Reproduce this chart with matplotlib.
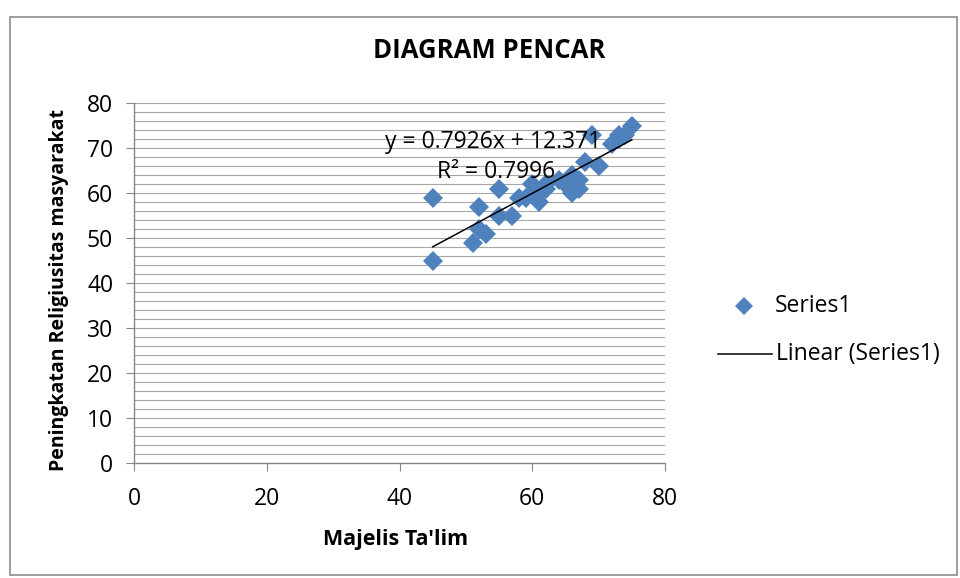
import matplotlib
matplotlib.use("Agg")
import matplotlib.pyplot as plt
from matplotlib.lines import Line2D
from matplotlib.patches import Rectangle
from matplotlib.ticker import MultipleLocator

plt.rcParams['font.family'] = ['Open Sans', 'DejaVu Sans']

# Majelis Ta'lim (x) vs Peningkatan Religiusitas masyarakat (y)
majelis = [45, 45, 51, 52, 53, 52, 55, 55, 57, 58, 59, 60, 61, 62, 61, 60,
           65, 66, 67, 66, 66, 68, 70, 69, 72, 73, 74, 75, 67, 62, 64, 73]
religiusitas = [59, 45, 49, 52, 51, 57, 61, 55, 55, 59, 59, 62, 58, 61, 60, 60,
                62, 60, 61, 64, 62, 67, 66, 73, 71, 72, 73, 75, 63, 62, 63, 73]

slope = 0.7926
intercept = 12.371
r_squared = 0.7996

title = "DIAGRAM PENCAR"
x_label = "Majelis Ta'lim"
y_label = "Peningkatan Religiusitas masyarakat"
series_name = "Series1"
trend_name = "Linear (Series1)"

marker_color = "#4F81BD"
grid_color = "#A6A6A6"
axis_color = "#868686"

W, H = 960, 578


def fx(px):
    return px / W


def fy(py):
    return 1 - py / H


fig = plt.figure(figsize=(W / 100, H / 100), dpi=100)
ax = fig.add_axes([fx(134), fy(463), (665 - 134) / W, (463 - 103) / H])

ax.set_xlim(0, 80)
ax.set_ylim(0, 80)
ax.xaxis.set_major_locator(MultipleLocator(20))
ax.yaxis.set_major_locator(MultipleLocator(10))
ax.yaxis.set_minor_locator(MultipleLocator(2))

ax.grid(axis='y', which='both', color=grid_color, linewidth=0.8)
ax.set_axisbelow(True)

for side in ('top', 'right'):
    ax.spines[side].set_visible(False)
for side in ('left', 'bottom'):
    ax.spines[side].set_color(axis_color)
    ax.spines[side].set_linewidth(1.0)

ax.tick_params(axis='both', which='major', direction='out', length=6,
               color=axis_color, labelsize=16.5)
ax.tick_params(axis='y', which='major', pad=9)
ax.tick_params(axis='x', which='major', pad=11)
ax.tick_params(axis='y', which='minor', length=0)

# scatter points
ax.plot(majelis, religiusitas, linestyle='none', marker='D', markersize=10.5,
        color=marker_color, markeredgewidth=0, zorder=3)

# linear trendline over the data range
x0, x1 = min(majelis), max(majelis)
ax.plot([x0, x1], [slope * x0 + intercept, slope * x1 + intercept],
        color='black', linewidth=1.1, zorder=4)

ax.text(54.1, 71.4, f"y = {slope}x + {intercept}", fontsize=16.5, ha='center',
        va='center', zorder=5)
ax.text(54.5, 64.7, f"R² = {r_squared}", fontsize=16.5, ha='center',
        va='center', zorder=5)

fig.text(fx(396), fy(540), x_label, fontsize=15.5, fontweight='bold',
         ha='center', va='center')
fig.text(fx(59), fy(290), y_label, fontsize=14, fontweight='bold',
         rotation=90, ha='center', va='center')

fig.text(fx(489.5), fy(50.5), title, fontsize=18.5, fontweight='bold',
         ha='center', va='center')

# legend entries
fig.add_artist(Line2D([fx(744)], [fy(306)], linestyle='none', marker='D',
                      markersize=9, color=marker_color, markeredgewidth=0,
                      transform=fig.transFigure))
fig.text(fx(775), fy(306), series_name, fontsize=16.5, ha='left', va='center')
fig.add_artist(Line2D([fx(718), fx(772)], [fy(354), fy(354)], color='black',
                      linewidth=1.1, transform=fig.transFigure))
fig.text(fx(776), fy(354), trend_name, fontsize=16.5, ha='left', va='center')

# outer chart border
fig.patches.append(Rectangle((fx(10), fy(575)), 947 / W, 558 / H,
                             transform=fig.transFigure, fill=False,
                             edgecolor='#8C8C8C', linewidth=1.2))

fig.savefig("out.png", dpi=100)
